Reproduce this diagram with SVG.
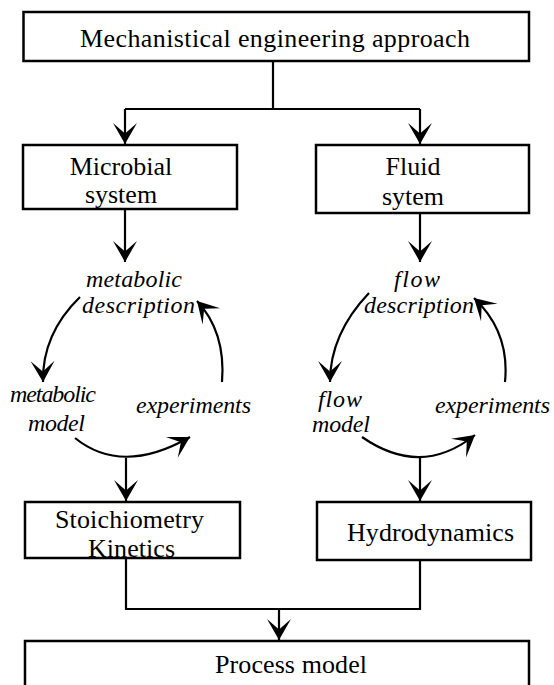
<svg xmlns="http://www.w3.org/2000/svg" width="554" height="685" viewBox="0 0 554 685">
<style>
.box{fill:#fff;stroke:#000;stroke-width:2.5}
.t{font-family:"Liberation Serif","Times New Roman",serif;font-size:26px;fill:#000}
.i{font-family:"Liberation Serif","Times New Roman",serif;font-style:italic;font-size:24px;fill:#000}
.c{fill:none;stroke:#000;stroke-width:2.2}
</style>
<defs>
<marker id="ah" markerUnits="userSpaceOnUse" markerWidth="30" markerHeight="30" viewBox="-16 -10 20 20" refX="0" refY="0" orient="auto">
<path d="M0,0 L-14,-8 L-7,0 L-14,8 Z" fill="#000"/>
</marker>
</defs>
<rect width="554" height="685" fill="#fff"/>
<g id="connectors">
<path class="c" d="M273,61 V109 M125,109 H420"/>
<path class="c" d="M125,109 V144" marker-end="url(#ah)"/>
<path class="c" d="M420,109 V144" marker-end="url(#ah)"/>
<path class="c" d="M125,209 V262" marker-end="url(#ah)"/>
<path class="c" d="M420,213 V262" marker-end="url(#ah)"/>
<path class="c" d="M80,297 Q42,334 43,382" marker-end="url(#ah)"/>
<path class="c" d="M222,382 Q226,332 197,301" marker-end="url(#ah)"/>
<path class="c" d="M369,293 Q330,334 330,382" marker-end="url(#ah)"/>
<path class="c" d="M505,382 Q510,332 474,298" marker-end="url(#ah)"/>
<path class="c" d="M75,438 Q122,476 190,437" marker-end="url(#ah)"/>
<path class="c" d="M362,437 Q421,478 475,435" marker-end="url(#ah)"/>
<path class="c" d="M126,458 V501" marker-end="url(#ah)"/>
<path class="c" d="M420,457 V501" marker-end="url(#ah)"/>
<path class="c" d="M126,558 V609 H420 V560"/>
<path class="c" d="M279,609 V640" marker-end="url(#ah)"/>
</g>
<g id="n-approach">
<rect class="box" x="23.5" y="12" width="505.5" height="49"/>
<text class="t" x="80" y="47" textLength="390">Mechanistical engineering approach</text>
</g>
<g id="n-microbial">
<rect class="box" x="23" y="145" width="214" height="64"/>
<text class="t" x="121" y="175" text-anchor="middle">Microbial</text>
<text class="t" x="121" y="203" text-anchor="middle">system</text>
</g>
<g id="n-fluid">
<rect class="box" x="316" y="145" width="213" height="68"/>
<text class="t" x="413" y="175" text-anchor="middle">Fluid</text>
<text class="t" x="413" y="205" text-anchor="middle">sytem</text>
</g>
<g id="n-metabolic-description">
<text class="i" x="86" y="287" textLength="96">metabolic</text>
<text class="i" x="82" y="313" textLength="113">description</text>
</g>
<g id="n-flow-description">
<text class="i" x="394" y="287" textLength="46">flow</text>
<text class="i" x="364" y="313" textLength="110">description</text>
</g>
<g id="n-metabolic-model">
<text class="i" x="10" y="402" textLength="86">metabolic</text>
<text class="i" x="28" y="431" textLength="57">model</text>
</g>
<g id="n-experiments-left">
<text class="i" x="136" y="413" textLength="115">experiments</text>
</g>
<g id="n-flow-model">
<text class="i" x="318" y="407" textLength="44">flow</text>
<text class="i" x="312" y="432" textLength="58">model</text>
</g>
<g id="n-experiments-right">
<text class="i" x="435" y="413" textLength="115">experiments</text>
</g>
<g id="n-stoichiometry">
<rect class="box" x="25" y="502" width="215" height="56"/>
<text class="t" x="55" y="528" textLength="149">Stoichiometry</text>
<text class="t" x="88" y="557" textLength="87">Kinetics</text>
</g>
<g id="n-hydrodynamics">
<rect class="box" x="317" y="502" width="214" height="58"/>
<text class="t" x="347" y="541" textLength="167">Hydrodynamics</text>
</g>
<g id="n-process">
<rect class="box" x="25" y="641" width="504" height="50"/>
<text class="t" x="215" y="673" textLength="152">Process model</text>
</g>
</svg>
